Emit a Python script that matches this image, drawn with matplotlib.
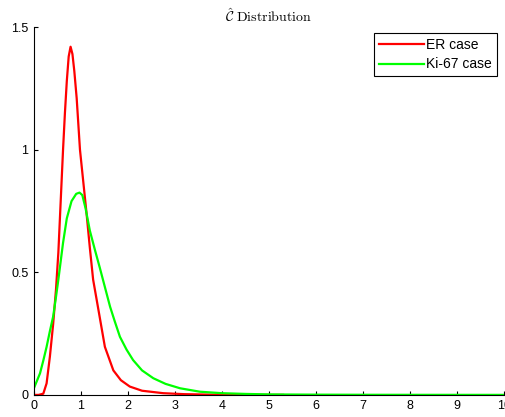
"""C-hat distribution: ER vs Ki-67 density curves (MATLAB-style figure)."""
import matplotlib

matplotlib.use("Agg")
import matplotlib.pyplot as plt  # noqa: E402

# values
er_x = [0, 0.1, 0.2, 0.27, 0.34, 0.41, 0.47, 0.52, 0.57, 0.62, 0.66, 0.70,
        0.74, 0.78, 0.82, 0.86, 0.91, 0.98, 1.05, 1.12, 1.19, 1.26, 1.37, 1.51,
        1.69, 1.85, 2.04, 2.3, 2.75, 3.2, 3.8, 4.5, 5.3]
er_y = [0, 0, 0.005, 0.047, 0.156, 0.29, 0.43, 0.58, 0.79, 1.0, 1.15, 1.28,
        1.38, 1.42, 1.39, 1.32, 1.21, 1.0, 0.87, 0.74, 0.60, 0.47, 0.35, 0.196,
        0.10, 0.06, 0.034, 0.017, 0.007, 0.003, 0.001, 0.0003, 0]

ki_x = [0, 0.13, 0.2, 0.27, 0.34, 0.41, 0.47, 0.52, 0.62, 0.7, 0.8, 0.9, 0.97,
        1.03, 1.1, 1.19, 1.3, 1.4, 1.51, 1.62, 1.72, 1.83, 1.97, 2.11, 2.3, 2.54,
        2.8, 3.11, 3.53, 4.0, 4.5, 5.0, 6, 7, 8, 9, 10]
ki_y = [0.027, 0.088, 0.14, 0.196, 0.26, 0.32, 0.40, 0.47, 0.62, 0.72, 0.79,
        0.82, 0.825, 0.815, 0.76, 0.67, 0.59, 0.52, 0.44, 0.36, 0.30, 0.237, 0.185,
        0.142, 0.10, 0.068, 0.045, 0.027, 0.013, 0.007, 0.004, 0.002, 0.001,
        0.0005, 0.0003, 0.0002, 0.0001]

x_ticks = [0, 1, 2, 3, 4, 5, 6, 7, 8, 9, 10]
y_ticks = [0, 0.5, 1, 1.5]
y_tick_labels = ["0", "0.5", "1", "1.5"]

plt.rcParams.update(
    {
        "font.family": ["Liberation Sans", "DejaVu Sans"],
        "font.size": 9,
        "mathtext.fontset": "cm",
        "xtick.direction": "in",
        "ytick.direction": "in",
        "xtick.major.size": 3,
        "ytick.major.size": 3,
        "axes.linewidth": 0.8,
    }
)

fig = plt.figure(figsize=(5.06, 4.17), dpi=100)
ax = fig.add_axes([0.067, 0.053, 0.929, 0.882])

ax.plot(er_x, er_y, color="#ff0000", linewidth=1.6, label="ER case")
ax.plot(ki_x, ki_y, color="#00ff00", linewidth=1.6, label="Ki-67 case")

ax.set_xlim(0, 10)
ax.set_ylim(0, 1.5)
ax.set_xticks(x_ticks)
ax.set_yticks(y_ticks)
ax.set_yticklabels(y_tick_labels)
ax.spines["top"].set_visible(False)
ax.spines["right"].set_visible(False)
ax.tick_params(pad=4)

ax.set_title(r"$\hat{\mathcal{C}}\ \mathrm{Distribution}$", fontsize=10, pad=4)

leg = ax.legend(loc="upper right", bbox_to_anchor=(0.985, 0.984), fancybox=False,
                framealpha=1, edgecolor="black", fontsize=10, handlelength=3.2,
                borderpad=0.35, labelspacing=0.4, handletextpad=0.2,
                borderaxespad=0)
leg.get_frame().set_linewidth(0.8)

fig.savefig("out.png", dpi=100)
plt.close(fig)
